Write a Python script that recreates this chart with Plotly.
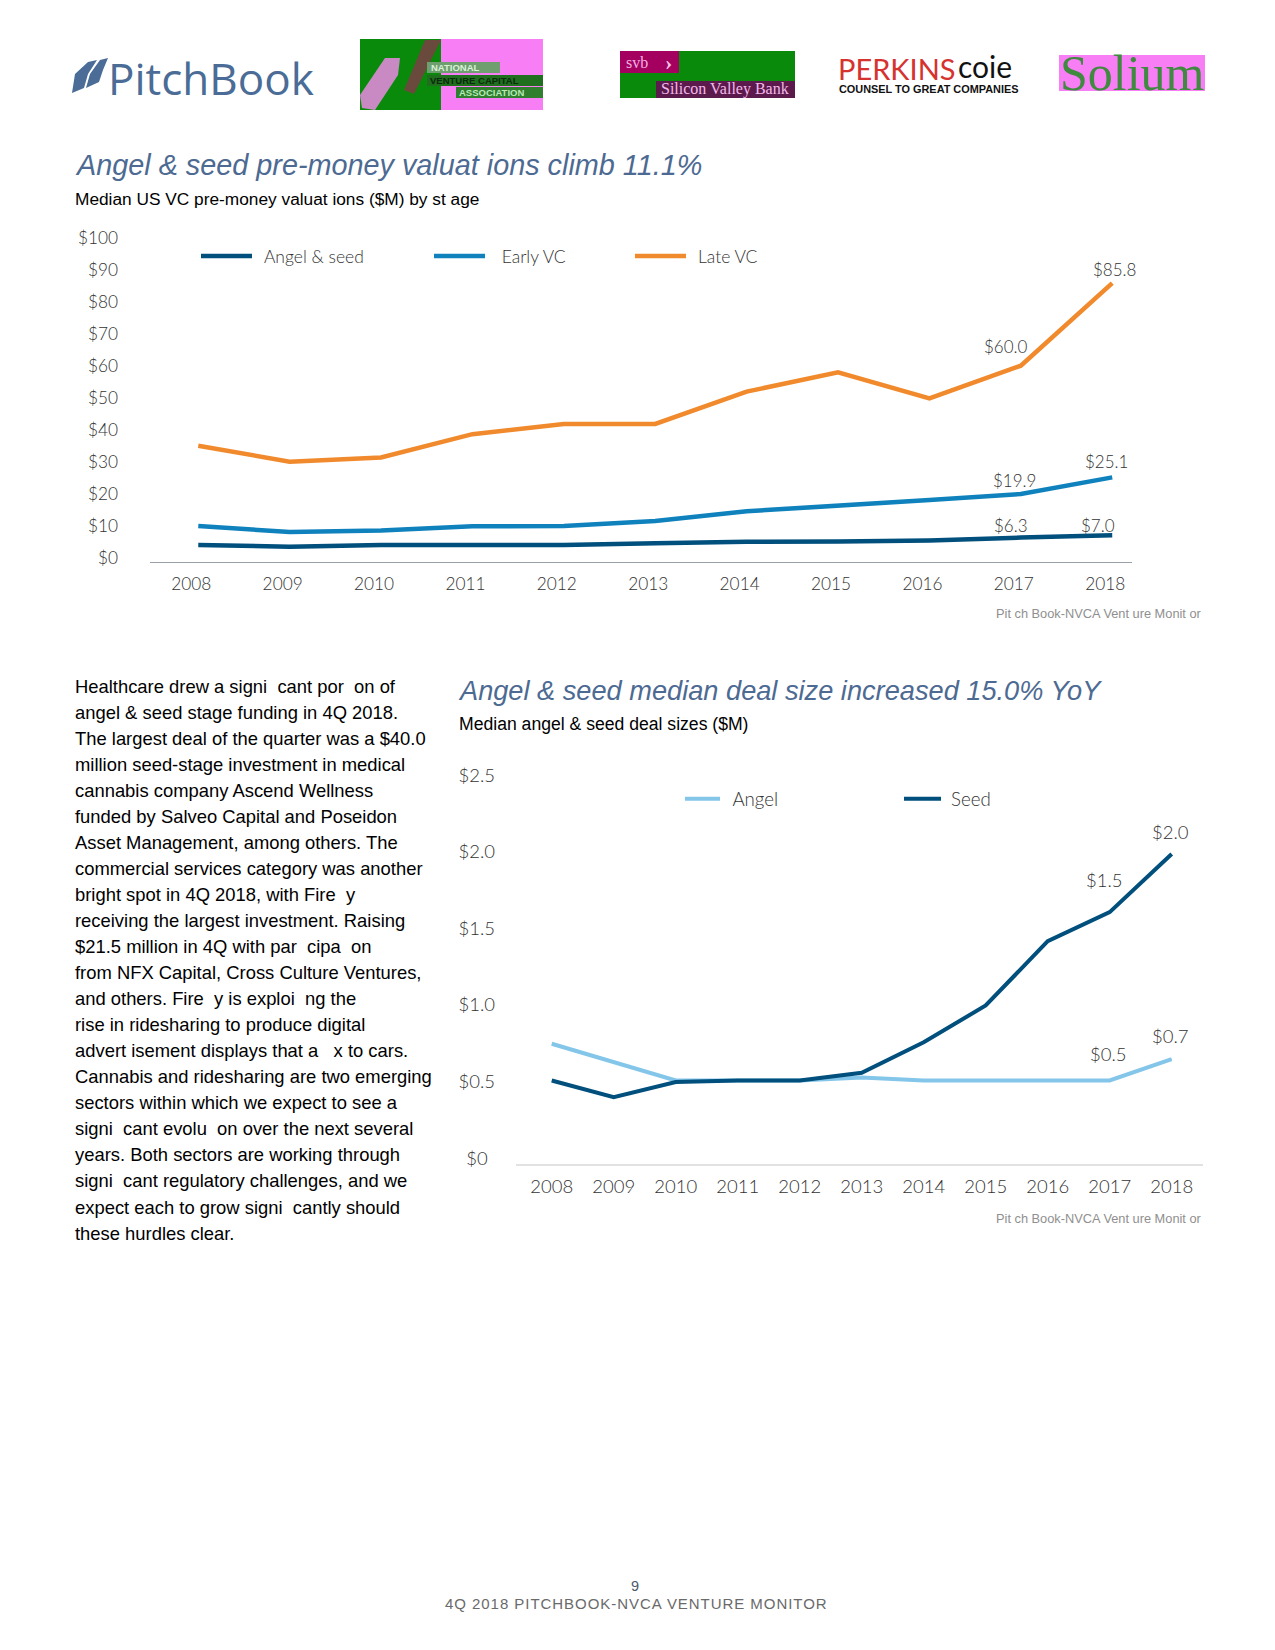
import plotly.graph_objects as go

W, H = 1275, 1650

# ---------- data ----------
years = ["2008", "2009", "2010", "2011", "2012", "2013", "2014", "2015", "2016", "2017", "2018"]
angel_seed_val = [4.0, 3.4, 4.0, 4.0, 4.0, 4.5, 5.0, 5.1, 5.4, 6.3, 7.0]
early_vc_val = [9.9, 8.0, 8.5, 9.8, 9.9, 11.5, 14.5, 16.1, 18.0, 19.9, 25.1]
late_vc_val = [35.0, 30.0, 31.3, 38.6, 41.8, 41.8, 51.9, 57.9, 49.8, 60.0, 85.8]
angel_deal = [0.76, 0.64, 0.52, 0.52, 0.52, 0.54, 0.52, 0.52, 0.52, 0.52, 0.66]
seed_deal = [0.52, 0.41, 0.51, 0.52, 0.52, 0.57, 0.77, 1.01, 1.43, 1.62, 2.0]

val_ticks = [0, 10, 20, 30, 40, 50, 60, 70, 80, 90, 100]
val_ticktext = ["$0", "$10", "$20", "$30", "$40", "$50", "$60", "$70", "$80", "$90", "$100"]
deal_ticks = [0, 0.5, 1.0, 1.5, 2.0, 2.5]
deal_ticktext = ["$0\u00a0\u2009", "$0.5", "$1.0", "$1.5", "$2.0", "$2.5"]

title_1 = "Angel & seed pre-money valuat ions climb 11.1%"
subtitle_1 = "Median US VC pre-money valuat ions ($M) by st age"
title_2 = "Angel & seed median deal size increased 15.0% YoY"
subtitle_2 = "Median angel & seed deal sizes ($M)"
source = "Pit ch Book-NVCA Vent ure Monit or"
page_no = "9"
footer = "4Q 2018 PITCHBOOK-NVCA VENTURE MONITOR"
body_lines = [
    "Healthcare drew a signi  cant por  on of",
    "angel & seed stage funding in 4Q 2018.",
    "The largest deal of the quarter was a $40.0",
    "million seed-stage investment in medical",
    "cannabis company Ascend Wellness",
    "funded by Salveo Capital and Poseidon",
    "Asset Management, among others. The",
    "commercial services category was another",
    "bright spot in 4Q 2018, with Fire  y",
    "receiving the largest investment. Raising",
    "$21.5 million in 4Q with par  cipa  on",
    "from NFX Capital, Cross Culture Ventures,",
    "and others. Fire  y is exploi  ng the",
    "rise in ridesharing to produce digital",
    "advert isement displays that a   x to cars.",
    "Cannabis and ridesharing are two emerging",
    "sectors within which we expect to see a",
    "signi  cant evolu  on over the next several",
    "years. Both sectors are working through",
    "signi  cant regulatory challenges, and we",
    "expect each to grow signi  cantly should",
    "these hurdles clear.",
]

# ---------- styles ----------
NAVY, BLUE, ORANGE, SKY = "#004f7c", "#0f82bd", "#f08a2c", "#84c6ea"
TXT = "#333333"
LATO = "Lato"
ARIAL = "Liberation Sans"


def px(x):
    return x / W


def py(y):
    return 1 - y / H


fig = go.Figure()


def line(x_axis, y_axis, name, vals, color, width, legend):
    fig.add_trace(go.Scatter(x=years, y=vals, name=name, mode="lines", xaxis=x_axis, yaxis=y_axis,
                             line=dict(color=color, width=width), legend=legend, hoverinfo="skip",
                             showlegend=True))


line("x", "y", "\u00a0\u2009Angel & seed", angel_seed_val, NAVY, 4.5, "legend")
line("x", "y", "\u00a0\u00a0\u2009Early VC", early_vc_val, BLUE, 4.5, "legend2")
line("x", "y", "\u00a0\u2009Late VC", late_vc_val, ORANGE, 4.5, "legend3")
line("x2", "y2", "\u00a0\u2009Angel", angel_deal, SKY, 4, "legend4")
line("x2", "y2", "\u00a0Seed", seed_deal, NAVY, 4, "legend5")

annotations = []
shapes = []


def text(x, y, s, size, color=TXT, family=ARIAL, anchor="left", italic=False, bold=False, weight=None):
    f = dict(size=size, color=color, family=family)
    if italic:
        f["style"] = "italic"
    if weight:
        f["weight"] = weight
    elif bold:
        f["weight"] = "bold"
    annotations.append(dict(x=px(x), y=py(y), xref="paper", yref="paper", text=s, showarrow=False,
                            xanchor=anchor, yanchor="middle", font=f, borderpad=0, align="left"))


def label(xa, ya, year, yv, s, dx, dy, size):
    annotations.append(dict(x=years.index(year), y=yv, xref=xa, yref=ya, text=s, showarrow=False, xanchor="center",
                            yanchor="middle", xshift=dx, yshift=dy,
                            font=dict(family=LATO, size=size, color=TXT, weight=300)))


def rect(x0, y0, x1, y1, color):
    shapes.append(dict(type="rect", xref="paper", yref="paper", x0=px(x0), x1=px(x1), y0=py(y0), y1=py(y1),
                       fillcolor=color, line=dict(width=0), layer="below"))


def poly(points, color):
    d = "M" + " L".join(f"{px(a):.5f},{py(b):.5f}" for a, b in points) + " Z"
    shapes.append(dict(type="path", xref="paper", yref="paper", path=d, fillcolor=color,
                       line=dict(width=0), layer="below"))


# data labels
label("x", "y", "2018", 85.8, "$85.8", 2, 14, 17)
label("x", "y", "2017", 60.0, "$60.0", -15, 19, 17)
label("x", "y", "2018", 25.1, "$25.1", -6, 16, 17)
label("x", "y", "2017", 19.9, "$19.9", -6, 14, 17)
label("x", "y", "2017", 6.3, "$6.3", -10, 12, 17)
label("x", "y", "2018", 7.0, "$7.0", -14, 10, 17)
label("x2", "y2", "2018", 2.0, "$2.0", -1, 22, 18.5)
label("x2", "y2", "2017", 1.62, "$1.5", -5, 32, 18.5)
label("x2", "y2", "2017", 0.52, "$0.5", -1, 26, 18.5)
label("x2", "y2", "2018", 0.66, "$0.7", -1, 23, 18.5)

# headings and text
text(74, 165, title_1, 28.8, "#4d6a92", italic=True)
text(74, 199.5, subtitle_1, 17.3, "#000000")
text(457, 690, title_2, 27.2, "#4d6a92", italic=True)
text(458, 724, subtitle_2, 17.6, "#000000")
text(995, 613, source, 12.8, "#8f8f8f")
text(995, 1218, source, 12.8, "#8f8f8f")
text(635, 1586, page_no, 14.5, "#4a5a6a", anchor="center")
text(618, 1603, footer, 15, "#6a6a6a", anchor="center")
for i, s in enumerate(body_lines):
    text(74, 686 + i * 26.05, s, 18.4, "#000000")

# ---------- logos ----------
text(107, 78, "PitchBook", 44, "#4a6c96", family="Open Sans", weight=500)
poly([(72, 93), (75, 74), (88, 62), (97, 60), (88, 74), (84, 88)], "#4a6c96")
poly([(86, 88), (90, 74), (100, 60), (108, 58), (103, 70), (99, 82)], "#4a6c96")

rect(360, 39, 441, 110, "#0a8a0a")
rect(441, 39, 543, 110, "#f77ef5")
poly([(425, 40), (441, 40), (414, 94), (404, 90)], "#6a4a3c")
poly([(362, 108), (360, 95), (385, 58), (400, 58), (398, 75), (375, 110)], "#c98ac4")
rect(427, 62, 500, 73, "#6f9f6f")
rect(427, 75, 543, 86, "#1f6f1f")
rect(456, 87, 543, 98, "#2f7f2f")
text(430, 67.5, "NATIONAL", 9.5, "#d9f2d9", weight="bold")
text(429, 80.5, "VENTURE CAPITAL", 9.5, "#0c2a0c", weight="bold")
text(458, 92.5, "ASSOCIATION", 9.5, "#b8e8b8", weight="bold")

rect(620, 51, 795, 98, "#0a8a0a")
rect(620, 51, 679, 73, "#a3005f")
rect(656, 81, 795, 98, "#5c1a4c")
text(625, 62, "svb", 16, "#f2b2e2", family="Liberation Serif")
text(664, 62, "\u203a", 22, "#f4c4ea", family="Liberation Serif", bold=True)
text(660, 89, "Silicon Valley Bank", 16, "#f2b8ea", family="Liberation Serif")

text(837, 68, "PERKINS", 29, "#d6322e", family="Lato", weight=400)
text(957, 66, "coie", 30, "#111111", family="Lato", weight=400)
text(838, 89, "COUNSEL TO GREAT COMPANIES", 10.9, "#111111", bold=True)

rect(1059, 55, 1205, 91, "#f77ef5")
text(1059, 73, "Solium", 50, "#3f8a3f", family="Liberation Serif")

# ---------- axes ----------
tick_font = dict(family=LATO, size=17.3, color=TXT, weight=300)
tick_font2 = dict(family=LATO, size=18.5, color=TXT, weight=300)

fig.update_layout(
    width=W, height=H, autosize=False, showlegend=True,
    margin=dict(l=0, r=0, t=0, b=0, pad=0, autoexpand=False),
    paper_bgcolor="white", plot_bgcolor="white",
    annotations=annotations, shapes=shapes,
    xaxis=dict(domain=[px(150), px(1131.7)], anchor="y", type="category", categoryorder="array",
               categoryarray=years, range=[-0.528, 10.213], showgrid=False, zeroline=False, showline=True,
               linecolor="#9aa0a8", linewidth=1, ticks="", tickfont=tick_font, ticklabelshift=-7,
               ticklabelstandoff=7),
    yaxis=dict(domain=[py(561.7), py(237.7)], anchor="x", range=[-1.25, 100], showgrid=False, zeroline=False,
               showline=False, tickmode="array", tickvals=val_ticks, ticktext=val_ticktext, ticks="",
               tickfont=tick_font, ticklabelstandoff=31),
    xaxis2=dict(domain=[px(516), px(1202.7)], anchor="y2", type="category", categoryorder="array",
                categoryarray=years, range=[-0.576, 10.5], showgrid=False, zeroline=False, showline=True,
                linecolor="#e2e2e2", linewidth=2, ticks="", tickfont=tick_font2, ticklabelstandoff=5),
    yaxis2=dict(domain=[py(1164), py(777.5)], anchor="x2", range=[-0.026, 2.5], showgrid=False, zeroline=False,
                showline=False, tickmode="array", tickvals=deal_ticks, ticktext=deal_ticktext, ticks="",
                tickfont=tick_font2, ticklabelstandoff=20, ticklabelshift=-2),
)


def leg(x, y, item, size):
    return dict(x=px(x), y=py(y), xanchor="left", yanchor="middle", orientation="h", itemwidth=item,
                bgcolor="rgba(0,0,0,0)", borderwidth=0, font=dict(family=LATO, size=size, color=TXT, weight=300),
                itemclick=False, itemdoubleclick=False)


fig.update_layout(
    legend=leg(196, 256, 51, 17.5),
    legend2=leg(429, 256, 51, 17.5),
    legend3=leg(630, 256, 51, 17.5),
    legend4=leg(680, 799, 35, 18.7),
    legend5=leg(899, 799, 37, 18.7),
)

spacing = """document.body.style.margin='0';
document.querySelectorAll('.annotation-text').forEach(function(t){
  if(t.textContent.indexOf('PITCHBOOK-NVCA')>=0){t.style.letterSpacing='0.95px';}
});"""
fig.write_html("out.html", post_script=spacing, config=dict(displayModeBar=False, responsive=False))
